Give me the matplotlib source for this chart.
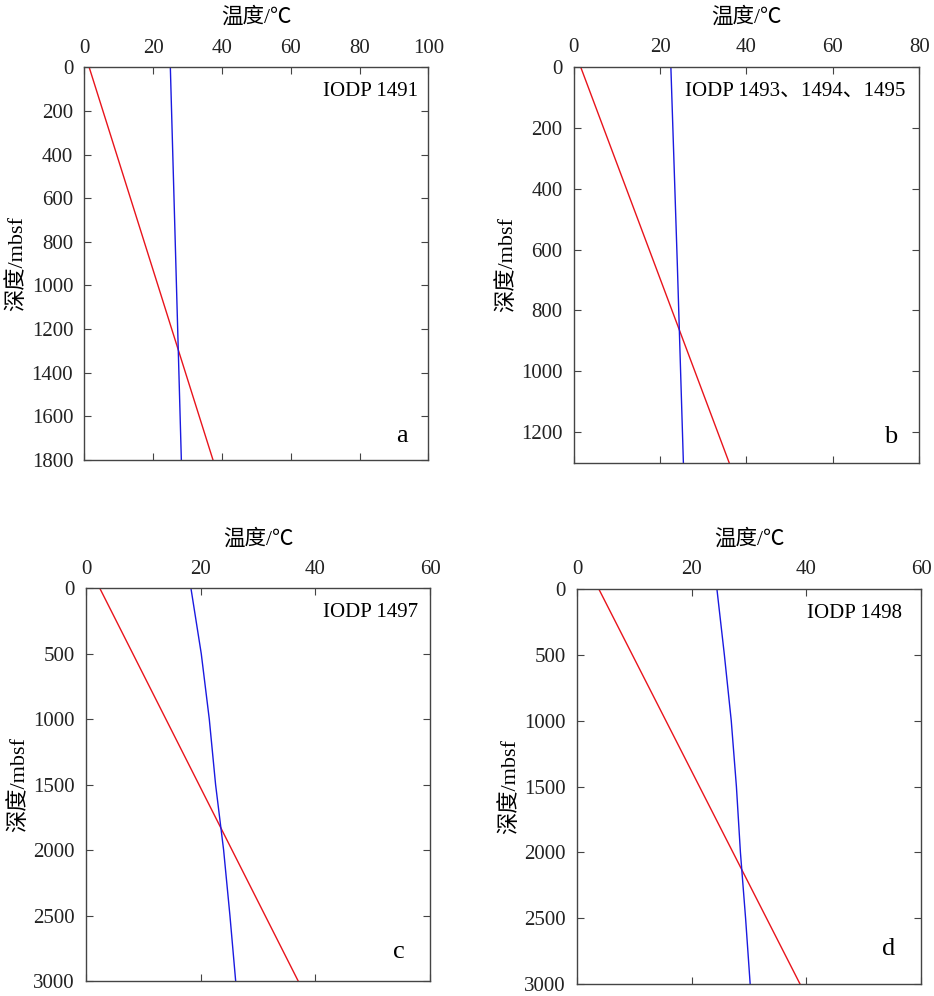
import matplotlib
matplotlib.use("Agg")
import matplotlib.pyplot as plt

plt.rcParams.update({
    "font.family": ["Liberation Serif", "Noto Sans CJK SC"],
    "font.size": 15,
    "axes.linewidth": 1.0,
    "axes.edgecolor": "#444444",
    "xtick.color": "#444444",
    "ytick.color": "#444444",
    "xtick.labelcolor": "#222222",
    "ytick.labelcolor": "#222222",
})

# panel data: depth (mbsf) and temperature (deg C)
sites = ["IODP 1491", "IODP 1493、1494、1495", "IODP 1497", "IODP 1498"]
letters = ["a", "b", "c", "d"]
xmax = [100, 80, 60, 60]
xticks = [
    [0, 20, 40, 60, 80, 100],
    [0, 20, 40, 60, 80],
    [0, 20, 40, 60],
    [0, 20, 40, 60],
]
ymax = [1800, 1300, 3000, 3000]
yticks = [
    [0, 200, 400, 600, 800, 1000, 1200, 1400, 1600, 1800],
    [0, 200, 400, 600, 800, 1000, 1200],
    [0, 500, 1000, 1500, 2000, 2500, 3000],
    [0, 500, 1000, 1500, 2000, 2500, 3000],
]

# geothermal gradient (red)
geo_depth = [[0, 1800], [0, 1300], [0, 3000], [0, 3000]]
geo_temp = [[1.4, 37.4], [1.6, 36.0], [2.4, 37.0], [3.8, 38.9]]

# hydrate phase boundary (blue)
phase_depth = [
    [0, 900, 1800],
    [0, 650, 1300],
    [0, 500, 1000, 1500, 2000, 2500, 3000],
    [0, 500, 1000, 1500, 2000, 2500, 3000],
]
phase_temp = [
    [25.0, 26.6, 28.2],
    [22.5, 24.0, 25.4],
    [18.3, 20.1, 21.5, 22.6, 24.0, 25.1, 26.1],
    [24.4, 25.7, 26.9, 27.8, 28.5, 29.4, 30.2],
]

# axes placement in figure fractions
positions = [
    [0.0903, 0.5382, 0.3683, 0.3943],
    [0.6142, 0.5354, 0.3700, 0.3976],
    [0.0921, 0.0151, 0.3683, 0.3943],
    [0.6178, 0.0120, 0.3683, 0.3966],
]
site_x = [0.97, 0.96, 0.965, 0.945]
letter_xy = [(0.94, 0.032), (0.935, 0.038), (0.927, 0.046), (0.925, 0.061)]

fig = plt.figure(figsize=(9.34, 9.96), dpi=100)

for i in range(4):
    ax = fig.add_axes(positions[i])
    ax.plot(geo_temp[i], geo_depth[i], color="#e8141c", lw=1.0)
    ax.plot(phase_temp[i], phase_depth[i], color="#1a1ae0", lw=1.0)

    ax.set_xlim(0, xmax[i])
    ax.set_ylim(ymax[i], 0)
    ax.set_xticks(xticks[i])
    ax.set_yticks(yticks[i])

    ax.xaxis.set_label_position("top")
    ax.xaxis.tick_top()
    ax.tick_params(axis="both", which="both", direction="in", length=5,
                   top=True, bottom=True, left=True, right=True,
                   labeltop=True, labelbottom=False, labelleft=True, labelright=False)
    ax.tick_params(axis="x", pad=7)
    ax.tick_params(axis="y", pad=8)
    ax.set_xlabel("温度/℃", labelpad=11, fontsize=15.5)
    ax.set_ylabel("深度/mbsf", labelpad=3, fontsize=16)

    ax.text(site_x[i], 0.963, sites[i], transform=ax.transAxes,
            ha="right", va="top", fontsize=15)
    lx, ly = letter_xy[i]
    ax.text(lx, ly, letters[i], transform=ax.transAxes,
            ha="right", va="bottom", fontsize=19)

fig.savefig("out.png", dpi=100)
